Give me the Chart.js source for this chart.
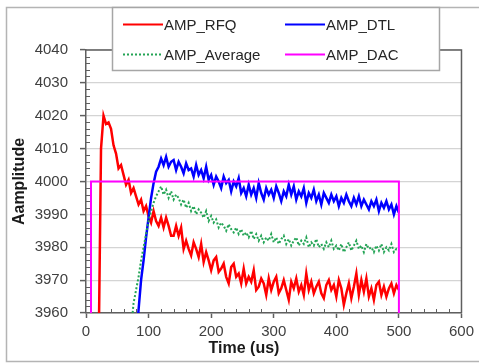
<!DOCTYPE html>
<html>
<head>
<meta charset="utf-8">
<script src="https://cdn.jsdelivr.net/npm/chart.js@4.4.1/dist/chart.umd.min.js"></script>
<style>
  html, body { margin: 0; padding: 0; background: #ffffff; }
  #wrap { position: relative; width: 479px; height: 364px; }
  canvas { display: block; }
</style>
</head>
<body>
<div id="wrap"><canvas id="c" width="479" height="364"></canvas></div>
<script>
// ---- Data ----
const seriesNames = ['AMP_RFQ', 'AMP_DTL', 'AMP_Average', 'AMP_DAC'];
const xTickLabels = [0, 100, 200, 300, 400, 500, 600];
const yTickLabels = [3960, 3970, 3980, 3990, 4000, 4010, 4020, 4030, 4040];

// time axis (us), every 4 us from 0 to 500
const times = [
  0,4,8,12,16,20,24,28,32,36,40,44,48,52,56,60,64,68,72,76,
  80,84,88,92,96,100,104,108,112,116,120,124,128,132,136,140,144,148,152,156,
  160,164,168,172,176,180,184,188,192,196,200,204,208,212,216,220,224,228,232,236,
  240,244,248,252,256,260,264,268,272,276,280,284,288,292,296,300,304,308,312,316,
  320,324,328,332,336,340,344,348,352,356,360,364,368,372,376,380,384,388,392,396,
  400,404,408,412,416,420,424,428,432,436,440,444,448,452,456,460,464,468,472,476,
  480,484,488,492,496,500
];

const ampRFQ = [
  3900,3900,3900,3900,3900,3945,4010,4020,4017.5,
  4018,4016,4011,4008.5,4004,4005,4002,3999,4000.5,3996.5,3998,3995.5,3993,3994.5,3991,3992.5,3989.5,3987.5,3991,3988,3986.5,
  3989,3986,3989,3986.5,3983.5,3983.5,3986.5,3983.5,3986,3979.5,
  3982,3979.5,3977.5,3981.5,3979.5,3977,3981,3975.5,3978.5,3976,
  3973,3976,3977,3972.5,3973.5,3975,3971,3969,3974,3975,
  3971,3972,3969,3973.5,3969,3971,3969.5,3973,3967,3968,
  3970.5,3969,3965.5,3970.5,3967,3969.5,3971,3966,3967.5,3970,
  3967,3964,3969.5,3967.5,3970.5,3966.5,3968.5,3965.5,3972,3967,
  3969.5,3966,3968,3969.5,3966,3964.5,3968.5,3970,3967,3968.5,
  3965,3970,3967.5,3962.5,3966,3969,3964.5,3968,3972,3965.5,
  3970,3966.5,3970.5,3965,3967.5,3964,3968.5,3969.5,3965.5,3968,
  3965,3967.5,3969,3966,3968.5,3967
];

const ampDTL = [
  3900,3900,3900,3900,3900,3900,3900,3900,3900,3900,3900,3900,3900,3900,3900,3900,3900,3900,3900,3900,
  3950,3961,3970,3976,3983,3989,3995,3999.5,4003,4004.5,
  4007,4005,4007.5,4004.5,4006,4006.5,4003.5,4006,4004.5,4002.5,
  4005.5,4003.5,4004,4001.5,4005,4002,4003.5,4001,4004.5,4000.5,
  4002,3999,4001.5,4000,3998,4001.5,3999.5,4000.5,3997,4000,
  3998.5,4001,3996.5,3998,3995.5,3999,3996,3998,3995,3999.5,
  3996.5,3994.5,3998,3996,3997.5,3995,3998.5,3996.5,3994,3997,
  3995.5,3999,3996,3998.5,3994.5,3997,3995.5,3998,3993.5,3996.5,
  3995,3997.5,3994,3996,3993,3996.5,3995,3993.5,3996,3994,
  3995.5,3992.5,3995,3993.5,3996,3994,3992.5,3995,3993,3995.5,
  3992.5,3994.5,3993,3991.5,3994,3992.5,3994.5,3991,3993.5,3992,
  3994,3991.5,3993,3990,3992.5,3990.5
];

const ampAverage = [
  3900,3900,3900,3900,3900,3900,3900,3900,3900,3900,3900,3900,3900,3900,3900,3900,3900,3900,
  3955,3963,3967,3971,3976,3980,3984,3988,3991,3993.5,3995.5,3997,
  3998.5,3996,3997.5,3995,3997,3994.5,3996,3995,3993,3994.5,
  3992,3993.5,3991,3992.5,3990,3991.5,3990.5,3989,3991,3988,
  3989.5,3987.5,3988.5,3986,3987.5,3986.5,3985,3987,3985.5,3984.5,
  3986,3984,3985.5,3983.5,3984.5,3983,3985,3982.5,3984,3982,
  3983.5,3981.5,3983,3982,3984,3981.5,3983,3981,3982.5,3983.5,
  3981,3982.5,3980.5,3982,3983,3980.5,3982,3981,3983,3980,
  3981.5,3980.5,3982.5,3980,3981,3979.5,3981.5,3980,3982,3979.5,
  3980.5,3979,3981,3978.5,3980,3981.5,3979,3980.5,3982,3979.5,
  3980.5,3978.5,3981,3979.5,3980,3978.5,3980.5,3979,3981,3978.5,
  3980,3979,3981,3978.5,3979.5,3979
];

const dacTimes = [0, 8, 8, 500, 500];
const ampDAC = [3900, 3900, 4000, 4000, 3900];

// ---- build chart ----
const FONT = '"Liberation Sans", Arial, sans-serif';
const DARK = '#5f5f5f';
const toPts = (xs, ys) => xs.map((x, i) => ({ x: x, y: ys[i] }));

const legendItems = [
  { name: seriesNames[0], color: '#ff0000', dash: [], col: 0, row: 0 },
  { name: seriesNames[1], color: '#0000ff', dash: [], col: 1, row: 0 },
  { name: seriesNames[2], color: '#23a455', dash: [2, 2], col: 0, row: 1 },
  { name: seriesNames[3], color: '#ff00ff', dash: [], col: 1, row: 1 }
];

const decorPlugin = {
  id: 'decor',
  beforeDraw(chart) {
    const ctx = chart.ctx;
    ctx.save();
    ctx.strokeStyle = '#b4b4b4';
    ctx.lineWidth = 1.5;
    ctx.beginPath();
    ctx.moveTo(480, 7.5);
    ctx.lineTo(6.5, 7.5);
    ctx.lineTo(6.5, 361.5);
    ctx.lineTo(480, 361.5);
    ctx.stroke();
    ctx.restore();
  },
  beforeDatasetsDraw(chart) {
    const ctx = chart.ctx;
    const a = chart.chartArea;
    const xs = chart.scales.x, ys = chart.scales.y;
    ctx.save();
    ctx.strokeStyle = DARK;
    ctx.lineWidth = 1;
    // minor ticks
    ctx.beginPath();
    for (let v = 3962; v < 4040; v += 2) {
      if (v % 10 === 0) continue;
      const p = Math.round(ys.getPixelForValue(v)) + 0.5;
      ctx.moveTo(a.left, p); ctx.lineTo(a.left + 4, p);
    }
    for (let v = 20; v < 600; v += 20) {
      if (v % 100 === 0) continue;
      const p = Math.round(xs.getPixelForValue(v)) + 0.5;
      ctx.moveTo(p, a.bottom); ctx.lineTo(p, a.bottom - 4);
    }
    ctx.stroke();
    // frame top and right
    ctx.lineWidth = 1.5;
    ctx.beginPath();
    ctx.moveTo(a.left, a.top);
    ctx.lineTo(a.right, a.top);
    ctx.lineTo(a.right, a.bottom);
    ctx.stroke();
    ctx.restore();
  },
  afterDraw(chart) {
    const ctx = chart.ctx;
    ctx.save();
    // x-axis title (centered on whole chart, as in reference)
    ctx.fillStyle = '#1a1a1a';
    ctx.font = 'bold 16px ' + FONT;
    ctx.textAlign = 'center';
    ctx.textBaseline = 'middle';
    ctx.fillText('Time (us)', 244, 349);
    // legend box
    const L = 112.5, T = 7.5, R = 439.5, B = 70.5;
    ctx.fillStyle = '#ffffff';
    ctx.fillRect(L, T, R - L, B - T);
    ctx.strokeStyle = '#a6a6a6';
    ctx.lineWidth = 1.5;
    ctx.strokeRect(L, T, R - L, B - T);
    const colX = [123, 285];
    const rowY = [24.5, 54.5];
    ctx.font = '15px ' + FONT;
    ctx.textAlign = 'left';
    legendItems.forEach(it => {
      const x0 = colX[it.col], y0 = rowY[it.row];
      ctx.strokeStyle = it.color;
      ctx.lineWidth = 2;
      ctx.setLineDash(it.dash);
      ctx.beginPath();
      ctx.moveTo(x0, y0); ctx.lineTo(x0 + 40, y0);
      ctx.stroke();
      ctx.setLineDash([]);
      ctx.fillStyle = '#262626';
      ctx.fillText(it.name, x0 + 41, y0 + 1);
    });
    ctx.restore();
  }
};

new Chart(document.getElementById('c'), {
  type: 'line',
  data: {
    datasets: [
      { label: seriesNames[0], data: toPts(times, ampRFQ), borderColor: '#ff0000', borderWidth: 2.5, order: 3 },
      { label: seriesNames[1], data: toPts(times, ampDTL), borderColor: '#0000ff', borderWidth: 2.5, order: 2 },
      { label: seriesNames[2], data: toPts(times, ampAverage), borderColor: '#23a455', borderWidth: 2, borderDash: [2, 2], order: 1 },
      { label: seriesNames[3], data: toPts(dacTimes, ampDAC), borderColor: '#ff00ff', borderWidth: 2, order: 0 }
    ]
  },
  options: {
    responsive: false,
    animation: false,
    devicePixelRatio: 1,
    elements: { point: { radius: 0, hoverRadius: 0 }, line: { tension: 0, fill: false } },
    layout: { padding: { left: 6, right: 17, top: 50, bottom: 6 } },
    plugins: { legend: { display: false }, tooltip: { enabled: false } },
    scales: {
      x: {
        type: 'linear',
        min: 0, max: 600,
        afterFit(s) { s.height = 45; },
        afterBuildTicks(s) { s.ticks = xTickLabels.map(v => ({ value: v })); },
        ticks: { color: '#404040', font: { family: FONT, size: 15 }, padding: 5, maxRotation: 0, callback: v => String(v) },
        grid: { drawOnChartArea: false, drawTicks: true, tickLength: 5, tickColor: DARK, tickWidth: 1.5 },
        border: { color: DARK, width: 1.5 }
      },
      y: {
        type: 'linear',
        min: 3960, max: 4040,
        afterFit(s) { s.width = 80; },
        afterBuildTicks(s) { s.ticks = yTickLabels.map(v => ({ value: v })); },
        ticks: { color: '#404040', font: { family: FONT, size: 15 }, padding: 12, callback: v => String(v) },
        grid: { color: '#d4d4d4', lineWidth: 1.2, drawTicks: true, tickLength: 6, tickColor: DARK, tickWidth: 1.5 },
        border: { color: DARK, width: 1.5 },
        title: { display: true, text: 'Aamplitude', color: '#1a1a1a', font: { family: FONT, size: 16, weight: 'bold' }, padding: { top: 4, bottom: 0 } }
      }
    }
  },
  plugins: [decorPlugin]
});
</script>
</body>
</html>
